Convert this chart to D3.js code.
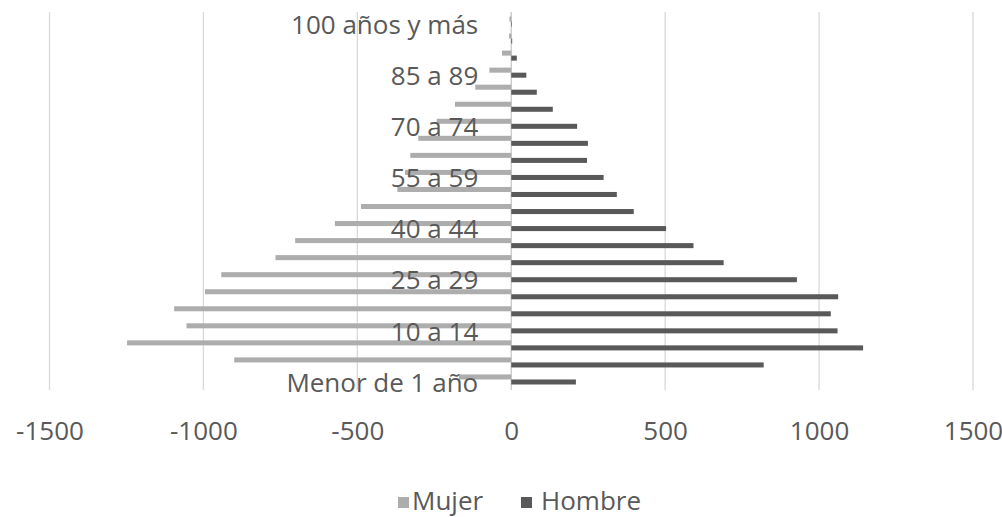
<!DOCTYPE html>
<html>
<head>
<meta charset="utf-8">
<script src="https://cdn.jsdelivr.net/npm/d3@7"></script>
<style>
  body { margin: 0; background: #fff; }
  svg text { font-family: "Open Sans", Lato, sans-serif; fill: #595959; }
</style>
</head>
<body>
<div class="chart"></div>
<script>
// grupos de edad, de abajo hacia arriba
let categorias = ['Menor de 1 año','1 a 4','5 a 9','10 a 14','15 a 19','20 a 24','25 a 29','30 a 34',
  '35 a 39','40 a 44','45 a 49','50 a 54','55 a 59','60 a 64','65 a 69','70 a 74','75 a 79',
  '80 a 84','85 a 89','90 a 94','95 a 99','100 años y más']
let mujer = [-170,-900,-1248,-1055,-1095,-995,-942,-766,-702,-573,-488,-370,-345,-328,-302,-242,-183,-117,-71,-30,-7,-6]
let hombre = [210,820,1143,1060,1038,1062,928,690,592,503,398,343,300,246,249,214,135,83,49,18,3,2]
let ticks = [-1500,-1000,-500,0,500,1000,1500]
let series = ['Mujer','Hombre']
let colores = {'Mujer':'#adadad','Hombre':'#595959'}

let w = 1002, h = 517
let svg = d3.select('.chart').append('svg').attr('width', w).attr('height', h)

let xScale = d3.scaleLinear().domain([-1500,1500]).range([49.5,973])
let yScale = d3.scaleBand().domain(categorias).range([388,13]).paddingInner(0.41).paddingOuter(0.205)
let sub = d3.scaleBand().domain(series).range([0, yScale.bandwidth()])

// lineas de cuadricula
svg.append('g').selectAll('line').data(ticks).enter().append('line')
  .attr('x1', d => xScale(d)).attr('x2', d => xScale(d))
  .attr('y1', 12).attr('y2', 390)
  .attr('stroke', d => d == 0 ? '#c8c8c8' : '#d9d9d9').attr('stroke-width', 1.3)

let filas = categorias.map((c, i) => ({cat: c, Mujer: mujer[i], Hombre: hombre[i]}))

series.forEach(s => {
  svg.append('g').selectAll('rect').data(filas).enter().append('rect')
    .attr('x', d => xScale(Math.min(0, d[s])))
    .attr('width', d => Math.abs(xScale(d[s]) - xScale(0)))
    .attr('y', d => yScale(d.cat) + sub(s))
    .attr('height', sub.bandwidth())
    .attr('fill', colores[s])
})

// etiquetas de categorias (cada tercera)
let yAxis = d3.axisLeft(yScale).tickValues(categorias.filter((c, i) => i % 3 == 0)).tickSize(0).tickPadding(33)
let gy = svg.append('g').attr('transform', 'translate(' + xScale(0) + ',0)').call(yAxis)
gy.select('.domain').remove()
gy.selectAll('text').attr('font-size', 26).attr('dy', '0.47em').attr('font-family', null).style('fill', '#595959')

// eje x (solo etiquetas)
let xAxis = d3.axisBottom(xScale).tickValues(ticks).tickSize(0).tickPadding(0).tickFormat(d => String(d))
let gx = svg.append('g').attr('transform', 'translate(0,422)').call(xAxis)
gx.select('.domain').remove()
gx.selectAll('text').attr('font-size', 26).attr('dy', '0.71em').attr('y', 0).attr('font-family', null).style('fill', '#595959')

// leyenda
let leyenda = [{s:'Mujer', x:398, tx:412}, {s:'Hombre', x:521, tx:541}]
let lg = svg.append('g')
lg.selectAll('rect').data(leyenda).enter().append('rect')
  .attr('x', d => d.x).attr('y', 497).attr('width', 11).attr('height', 11).attr('fill', d => colores[d.s])
lg.selectAll('text').data(leyenda).enter().append('text')
  .attr('x', d => d.tx).attr('y', 510).attr('font-size', 26).text(d => d.s)
</script>
</body>
</html>
